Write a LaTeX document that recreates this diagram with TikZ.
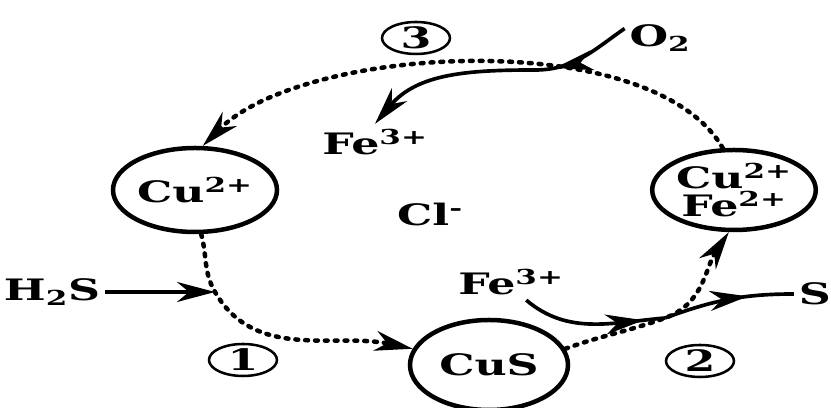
\documentclass[tikz,border=0pt]{standalone}
\usepackage{fontspec}
\setmainfont{DejaVu Serif}[FakeStretch=1.5]
\usetikzlibrary{arrows.meta,shapes.geometric,decorations.markings}

\begin{document}
\begin{tikzpicture}[>={Stealth[length=0.95cm,width=0.5cm,inset=0.3cm]},
    every node/.style={font=\fontsize{21}{23}\selectfont\bfseries},
    ion/.style={ellipse, draw, line width=3.2pt, inner sep=0pt},
    num/.style={ellipse, draw, line width=1.8pt, inner sep=0pt,
        minimum width=1.7cm, minimum height=0.8cm},
    dotline/.style={line width=3.2pt, dash pattern=on 2pt off 5pt, line cap=round},
    rxn/.style={line width=2.6pt},
    midarrow/.style={postaction={decorate}, decoration={markings,
        mark=at position #1 with {\arrow{>}}}}]
    % Khung hình
    \useasboundingbox (0,0) rectangle (20.775,10.2);

    % Các ion trong vòng
    \node[ion, minimum width=4.1cm, minimum height=2.1cm] (cua) at (4.875,5.45) {Cu\textsuperscript{2+}};
    \node[ion, minimum width=3.7cm, minimum height=2.0cm, align=center] (cufe) at (18.35,5.45)
        {Cu\textsuperscript{2+}\\[-3pt]Fe\textsuperscript{2+}};
    \node[ion, minimum width=3.95cm, minimum height=2.25cm] (cus) at (12.225,1.075) {CuS};

    % Các chất tham gia
    \node (cl) at (10.75,4.825) {Cl\textsuperscript{-}};
    \node (fea) at (9.375,6.65) {Fe\textsuperscript{3+}};
    \node (feb) at (12.775,3.15) {Fe\textsuperscript{3+}};
    \node (o2) at (16.5,9.25) {O\textsubscript{2}};
    \node (h2s) at (1.3,2.9) {H\textsubscript{2}S};
    \node (s) at (20.37,2.85) {S};

    % Số thứ tự các bước
    \node[num] (n1) at (6.075,1.2) {1};
    \node[num] (n2) at (17.5,1.175) {2};
    \node[num] (n3) at (10.4,9.25) {3};

    % Điểm nối
    \coordinate (j1) at (5.375,2.9);
    \coordinate (j2) at (16.625,2.25);
    \coordinate (j3) at (13.375,8.45);

    % Vòng chuyển hóa (nét chấm)
    \draw[dotline, ->] (cua.-82) to[out=-75, in=120] (j1) to[out=-60, in=168] (cus.168);
    \draw[dotline, ->] (cus.12) to[out=20, in=200] (j2) to[out=20, in=-124] (cufe.-97);
    \draw[dotline, ->] (cufe.105) to[out=120, in=45, looseness=0.7] (cua.80);

    % Các mũi tên phản ứng
    \draw[rxn, ->] (h2s.east) -- (j1);
    \draw[rxn, midarrow=0.8] (o2.165) to[out=-145, in=0] (j3);
    \draw[rxn, ->] (j3) to[out=180, in=50] (fea.north);
    \draw[rxn, midarrow=0.85] (feb.-50) to[out=-40, in=185] (j2);
    \draw[rxn, midarrow=0.65] (j2) to[out=20, in=180] (s.west);
\end{tikzpicture}
\end{document}
